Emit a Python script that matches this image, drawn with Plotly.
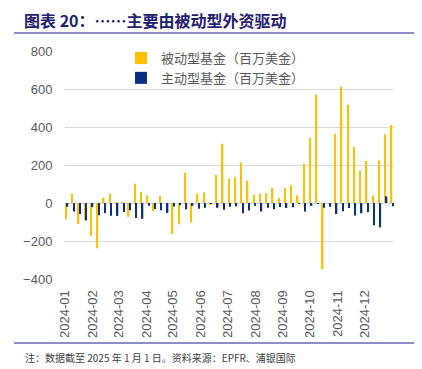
import pandas as pd
import plotly.graph_objects as go

# Weekly dates (data through 2025-01-01)
weeks = [d.strftime("%Y-%m-%d") for d in pd.date_range("2024-01-03", periods=53, freq="7D")]

passive = [-85, 49, -110, -88, -172, -238, 28, 50, 5, 5, -72, 101, 58, 40, -42, 38, 0,
           -163, -112, 159, -102, 49, 56, -10, 149, 312, 128, 138, 214, 117, 44, 49, 52,
           80, 26, 79, 93, 40, 207, 343, 571, -348, -5, 364, 613, 517, 296, 170, 222, 40,
           224, 362, 411]
active = [-20, -45, -58, -92, -22, -65, -52, -67, -68, -47, -38, -79, -83, -15, -32, -38,
          -52, -18, -12, -33, -15, -30, -25, -5, -25, -35, -20, -18, -54, -40, -15, -45,
          -25, -33, -21, -26, -23, -5, -45, -15, -5, -25, -20, -58, -44, -26, -66, -54,
          -47, -117, -128, 35, -17]

month_ticks = ["2024-%02d-01" % m for m in range(1, 13)]
month_labels = ["2024-%02d" % m for m in range(1, 13)]

name_passive = "被动型基金（百万美金）"
name_active = "主动型基金（百万美金）"
yticks = [-400, -200, 0, 200, 400, 600, 800]

title_text = "<b>图表 20：……主要由被动型外资驱动</b>"
note_text = "注：数据截至 2025 年 1 月 1 日。资料来源：EPFR、浦银国际"

fig = go.Figure()
fig.add_trace(go.Bar(x=weeks, y=passive, name=name_passive, marker_color="#FFC000",
                     marker_line_width=0))
fig.add_trace(go.Bar(x=weeks, y=active, name=name_active, marker_color="#0A2F85",
                     marker_line_width=0))

# page body has an 8px margin; build the figure in page coordinates minus that offset
OFF = 8
W, H = 422 - OFF, 369 - OFF
# plot area in reference pixel coords
PL, PR, PT, PB = 65, 394, 51, 279
L, R, T, B = PL - OFF, W - (PR - OFF), PT - OFF, H - (PB - OFF)
pw, ph = W - L - R, H - T - B

def px(x):
    return (x - OFF - L) / pw

def py(y):
    return (H - B - (y - OFF)) / ph

fig.update_layout(
    width=W, height=H,
    margin=dict(l=L, r=R, t=T, b=B, autoexpand=False),
    paper_bgcolor="white", plot_bgcolor="white",
    barmode="group", bargap=0.55, bargroupgap=0,
    showlegend=True,
    legend=dict(x=px(121), y=py(43), xanchor="left", yanchor="top",
                font=dict(family="Noto Sans CJK SC", size=13, color="#595959"),
                bgcolor="rgba(0,0,0,0)", tracegroupgap=0, itemwidth=30),
    font=dict(family="Liberation Sans", size=13, color="#595959"),
    xaxis=dict(type="date", range=["2024-01-01", "2025-01-03"],
               tickvals=month_ticks, ticktext=month_labels, tickangle=-90,
               showgrid=False, zeroline=False, showline=False, automargin=False,
               ticks="outside", ticklen=5, tickcolor="rgba(0,0,0,0)",
               tickfont=dict(family="Liberation Sans", size=13, color="#595959")),
    yaxis=dict(range=[-400, 800], tickvals=yticks, showgrid=True, gridcolor="#D9D9D9",
               gridwidth=1, zeroline=True, zerolinecolor="#D9D9D9", zerolinewidth=1,
               showline=False, ticks="outside", ticklen=9, tickcolor="rgba(0,0,0,0)",
               automargin=False,
               tickfont=dict(family="Liberation Sans", size=13, color="#595959")),
)

fig.add_annotation(text=title_text, xref="paper", yref="paper", x=px(22), y=py(20),
                   xanchor="left", yanchor="middle", showarrow=False,
                   font=dict(family="Noto Sans CJK SC", size=16, color="#1F2070"))
fig.add_annotation(text=note_text, xref="paper", yref="paper", x=px(23), y=py(357),
                   xanchor="left", yanchor="middle", showarrow=False,
                   font=dict(family="Noto Sans CJK SC", size=10, color="#404040"))

for yy in (33, 343):
    fig.add_shape(type="line", xref="paper", yref="paper", x0=px(14), x1=px(418),
                  y0=py(yy), y1=py(yy), line=dict(color="#8C8CC8", width=2))

fig.write_html("out.html")
